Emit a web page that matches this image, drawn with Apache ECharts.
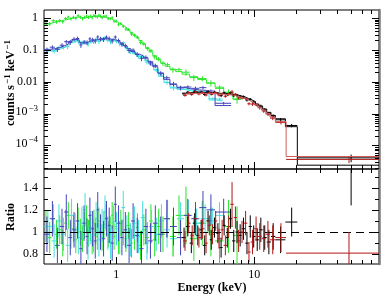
<!DOCTYPE html>
<html><head><meta charset="utf-8">
<script src="https://cdn.jsdelivr.net/npm/echarts@6/dist/echarts.min.js"></script>
<style>html,body{margin:0;padding:0;background:#fff}#c{width:390px;height:299px}</style>
</head><body><div id="c"></div>
<script>
// ---------- data (bin edges in keV, model counts/s/keV, data/model ratio, ratio error) ----------
const greenEdges=[0.30,0.32,0.34,0.36,0.38,0.40,0.42,0.44,0.46,0.48,
 0.50,0.52,0.54,0.56,0.58,0.60,0.62,0.64,0.66,0.68,
 0.70,0.72,0.74,0.76,0.78,0.80,0.83,0.86,0.89,0.92,
 0.95,0.98,1.02,1.06,1.10,1.15,1.20,1.26,1.32,1.39,
 1.46,1.54,1.63,1.73,1.84,1.96,2.10,2.26,2.45,2.70,
 3.00,3.40,3.90,4.50,5.20,6.00,7.00,8.00];
const greenModel=[0.66,0.70,0.75,0.79,0.83,0.87,0.91,0.95,1.00,1.04,
 1.08,1.10,1.08,1.03,1.02,1.05,1.09,1.12,1.14,1.15,
 1.16,1.15,1.14,1.13,1.11,1.08,1.04,1.00,0.96,0.91,
 0.85,0.78,0.70,0.63,0.56,0.49,0.42,0.36,0.30,0.245,
 0.20,0.155,0.118,0.088,0.066,0.050,0.039,0.031,0.025,0.021,
 0.0175,0.0145,0.0118,0.0092,0.0068,0.0045,0.0029];
const greenRatio=[1.05,0.95,1.12,0.98,1.02,0.90,1.08,1.15,0.97,1.03,
 0.93,1.10,1.00,0.94,1.06,1.12,0.99,1.04,0.92,1.08,
 1.01,0.96,1.10,1.03,0.95,1.07,1.13,0.98,1.02,1.15,
 0.96,1.05,0.92,1.08,1.00,0.94,1.06,0.90,0.97,1.04,
 0.88,1.02,0.95,1.10,0.93,1.05,0.98,1.12,0.96,1.15,
 1.15,0.94,1.08,1.00,0.92,1.05,0.97];
const greenErr=[0.14,0.14,0.13,0.13,0.13,0.12,0.12,0.12,0.12,0.12,
 0.12,0.12,0.12,0.12,0.12,0.12,0.12,0.12,0.12,0.12,
 0.12,0.12,0.12,0.12,0.12,0.12,0.12,0.12,0.12,0.12,
 0.12,0.12,0.12,0.12,0.12,0.12,0.12,0.13,0.13,0.13,
 0.13,0.14,0.14,0.15,0.15,0.16,0.16,0.17,0.18,0.18,
 0.26,0.20,0.20,0.22,0.22,0.24,0.26];

const blueEdges=[0.30,0.33,0.36,0.39,0.42,0.45,0.48,0.51,0.54,0.57,
 0.60,0.63,0.66,0.69,0.72,0.75,0.79,0.83,0.87,0.91,
 0.96,1.01,1.07,1.13,1.20,1.28,1.37,1.47,1.58,1.70,
 1.84,2.00,2.20,2.45,2.75,3.10,3.50,4.00,4.50,5.20,
 6.80];
const blueModel=[0.105,0.11,0.12,0.135,0.155,0.185,0.215,0.21,0.17,0.165,
 0.18,0.195,0.205,0.21,0.215,0.225,0.23,0.225,0.22,0.215,
 0.205,0.185,0.16,0.135,0.11,0.09,0.075,0.065,0.056,0.043,
 0.030,0.019,0.012,0.0082,0.0068,0.006,0.0056,0.0054,0.0043,0.0018];
const blueRatio=[0.98,1.12,0.88,1.05,1.18,0.95,1.02,1.10,0.85,1.08,
 0.96,1.15,1.03,0.92,1.20,1.00,0.94,1.12,1.06,0.90,
 1.25,1.08,0.95,1.02,0.88,1.10,0.97,0.85,1.05,0.92,
 1.08,0.98,1.12,1.05,0.95,1.15,1.12,1.22,1.20,1.18];
const blueErr=[0.16,0.16,0.16,0.16,0.16,0.16,0.16,0.16,0.16,0.16,
 0.16,0.16,0.16,0.16,0.16,0.16,0.16,0.16,0.16,0.16,
 0.16,0.16,0.16,0.16,0.16,0.16,0.16,0.16,0.16,0.16,
 0.16,0.16,0.17,0.17,0.16,0.15,0.15,0.15,0.14,0.12];

const cyanEdges=[0.30,0.34,0.37,0.40,0.43,0.46,0.49,0.52,0.55,0.58,
 0.61,0.64,0.67,0.70,0.73,0.77,0.81,0.85,0.89,0.93,
 0.98,1.03,1.09,1.16,1.23,1.31,1.40,1.50,1.61,1.73,
 1.87,2.03,2.22,2.45,2.75,3.10,3.55,4.10,4.70,5.30,
 5.90];
const cyanModel=[0.095,0.10,0.11,0.125,0.145,0.17,0.195,0.19,0.16,0.155,
 0.17,0.18,0.19,0.195,0.20,0.21,0.21,0.205,0.20,0.195,
 0.185,0.165,0.14,0.115,0.095,0.078,0.066,0.056,0.047,0.035,
 0.024,0.015,0.0095,0.0068,0.0058,0.0052,0.0048,0.0044,0.0027,0.0025];
const cyanRatio=[1.05,0.92,1.10,0.98,0.88,1.15,1.02,0.95,1.08,1.20,
 0.90,1.04,0.97,1.12,0.93,1.06,1.18,0.99,0.91,1.09,
 1.03,0.95,1.22,1.00,0.93,1.08,0.96,1.13,0.90,1.05,
 0.98,1.10,1.02,0.94,1.12,1.15,1.08,1.12,1.10,1.15];
const cyanErr=[0.15,0.15,0.15,0.15,0.15,0.15,0.15,0.15,0.15,0.15,
 0.15,0.15,0.15,0.15,0.15,0.15,0.15,0.15,0.15,0.15,
 0.15,0.15,0.15,0.15,0.15,0.15,0.15,0.15,0.15,0.15,
 0.15,0.15,0.16,0.16,0.15,0.14,0.13,0.13,0.12,0.12];

const blackEdges=[3.0,3.2,3.4,3.6,3.8,4.0,4.25,4.5,4.75,5.0,
 5.3,5.6,5.9,6.2,6.55,6.9,7.3,7.7,8.1,8.6,
 9.1,9.6,10.2,10.8,11.5,12.3,13.2,14.2,16.8,20.5,
 80];
const blackModel=[0.0044,0.0045,0.0046,0.0047,0.0047,0.0047,0.0046,0.0046,0.0045,0.0045,
 0.0044,0.0043,0.0043,0.0042,0.0041,0.0040,0.0038,0.0036,0.0033,0.0030,
 0.0027,0.0024,0.0020,0.0017,0.0014,0.0011,0.00088,0.00069,0.00039,0.000024];
const blackRatio=[0.95,1.05,0.90,1.08,0.97,1.02,0.88,1.10,0.93,1.04,
 0.99,0.86,1.06,0.95,1.12,0.92,1.00,0.97,1.03,0.90,
 1.05,0.96,0.93,1.02,0.95,0.91,0.96,0.93,1.09,1.70];
const blackErr=[0.09,0.09,0.09,0.09,0.09,0.09,0.09,0.09,0.09,0.09,
 0.09,0.09,0.09,0.09,0.09,0.10,0.10,0.10,0.10,0.10,
 0.10,0.10,0.10,0.11,0.11,0.11,0.12,0.12,0.13,0.46];

const redEdges=[3.05,3.25,3.45,3.65,3.85,4.1,4.35,4.6,4.85,5.1,
 5.4,5.7,6.0,6.35,6.7,7.1,7.5,7.9,8.4,8.9,
 9.4,10.0,10.6,11.3,12.1,13.0,14.2,17.0,80];
const redModel=[0.0041,0.0042,0.0043,0.0044,0.0044,0.0044,0.0043,0.0043,0.0043,0.0042,
 0.0041,0.0041,0.0040,0.0039,0.0038,0.0036,0.0034,0.0031,0.0028,0.0025,
 0.0022,0.0019,0.0016,0.0013,0.0010,0.00078,0.00056,0.000045];
const redRatio=[0.92,1.08,0.97,1.12,0.95,1.03,0.90,1.06,0.98,1.10,
 0.94,1.02,0.88,1.05,1.25,1.13,0.92,1.00,1.08,0.82,
 0.91,1.03,0.96,0.94,0.98,0.93,0.95,0.81];
const redErr=[0.09,0.09,0.09,0.09,0.09,0.09,0.09,0.09,0.09,0.09,
 0.09,0.09,0.09,0.10,0.20,0.10,0.10,0.10,0.11,0.09,
 0.11,0.11,0.12,0.12,0.12,0.13,0.13,0.19];

const ratioRef=1;

// axis ticks and labels
const xMajorTicks=[1,10];
const xTickLabels=['1','10'];
const xMinorTicks=[0.4,0.5,0.6,0.7,0.8,0.9,2,3,4,5,6,7,8,9,20,30,40,50,60,70];
const yMajorTicks=[1e-4,1e-3,0.01,0.1,1];
const yTickLabels=['10{s|\u22124}','10{s|\u22123}','0.01','0.1','1'];
const yMinorTicks=[2e-5,3e-5,4e-5,5e-5,6e-5,7e-5,8e-5,9e-5,
 2e-4,3e-4,4e-4,5e-4,6e-4,7e-4,8e-4,9e-4,
 2e-3,3e-3,4e-3,5e-3,6e-3,7e-3,8e-3,9e-3,
 0.02,0.03,0.04,0.05,0.06,0.07,0.08,0.09,
 0.2,0.3,0.4,0.5,0.6,0.7,0.8,0.9];
const rMajorTicks=[0.8,1.0,1.2,1.4];
const rTickLabels=['0.8','1','1.2','1.4'];
const rMinorTicks=[0.9,1.1,1.3,1.5];

// ---------- helpers ----------
const FONT='"Liberation Serif", "Times New Roman", serif';
const SUP={fontSize:9, fontFamily:'Liberation Serif', verticalAlign:'top', padding:[0,0,7,1]};
function crosses(edges, model, ratio, err, inRatio){
  const out=[];
  for(let i=0;i<ratio.length;i++){
    const lo=edges[i], hi=edges[i+1], c=(lo+hi)/2, k=inRatio?1:model[i];
    out.push([c, ratio[i]*k, lo, hi, (ratio[i]-err[i])*k, (ratio[i]+err[i])*k]);
  }
  return out;
}
function steps(edges, model){
  const out=[];
  for(let i=0;i<model.length;i++){out.push([edges[i],model[i]]);out.push([edges[i+1],model[i]]);}
  return out;
}
function crossSeries(g, data, color, z){
  return {type:'custom', xAxisIndex:g, yAxisIndex:g, silent:true, z:z, data:data, encode:{x:0,y:1},
    renderItem:function(params, api){
      const cs=params.coordSys, x0=cs.x, x1=cs.x+cs.width, y0=cs.y, y1=cs.y+cs.height;
      const c=api.coord([api.value(0), api.value(1)]);
      const L=api.coord([api.value(2), api.value(1)])[0];
      const R=api.coord([api.value(3), api.value(1)])[0];
      const T=api.coord([api.value(0), api.value(5)])[1];
      const B=api.coord([api.value(0), api.value(4)])[1];
      const st={stroke:color, lineWidth:1};
      const ch=[];
      if(c[1]>=y0 && c[1]<=y1){
        const a=Math.max(L,x0), b=Math.min(R,x1);
        if(b>a) ch.push({type:'line', shape:{x1:a,y1:c[1],x2:b,y2:c[1]}, style:st});
      }
      if(c[0]>=x0 && c[0]<=x1){
        const a=Math.max(T,y0), b=Math.min(B,y1);
        if(b>a) ch.push({type:'line', shape:{x1:c[0],y1:a,x2:c[0],y2:b}, style:st});
      }
      return {type:'group', children:ch};
    }};
}
function stepSeries(g, data, color, z){
  return {type:'line', xAxisIndex:g, yAxisIndex:g, data:data, showSymbol:false, symbol:'none', silent:true, z:z,
    lineStyle:{color:color, width:1}, clip:true};
}
function tickSeries(g, axis, vals, len){
  return {type:'custom', xAxisIndex:g, yAxisIndex:g, silent:true, z:30,
    data: vals.map(v=> axis==='x'?[v,1]:[1,v]), encode:{x:0,y:1},
    renderItem:function(params, api){
      const cs=params.coordSys, st={stroke:'#000', lineWidth:1};
      if(axis==='x'){
        const x=Math.round(api.coord([api.value(0),1])[0])+0.5;
        return {type:'group', children:[
          {type:'line', shape:{x1:x,y1:cs.y,x2:x,y2:cs.y+len}, style:st},
          {type:'line', shape:{x1:x,y1:cs.y+cs.height,x2:x,y2:cs.y+cs.height-len}, style:st}]};
      }
      const y=Math.round(api.coord([1,api.value(1)])[1])+0.5;
      return {type:'group', children:[
        {type:'line', shape:{x1:cs.x,y1:y,x2:cs.x+len,y2:y}, style:st},
        {type:'line', shape:{x1:cs.x+cs.width,y1:y,x2:cs.x+cs.width-len,y2:y}, style:st}]};
    }};
}
function labelSeries(g, axis, vals, labels){
  return {type:'custom', xAxisIndex:g, yAxisIndex:g, silent:true, z:30,
    data: vals.map((v,i)=> axis==='x'?[v,1,i]:[1,v,i]), encode:{x:0,y:1},
    renderItem:function(params, api){
      const cs=params.coordSys, i=api.value(2);
      const base={text:labels[i], fill:'#000', font:'12px '+FONT, rich:{s:SUP}};
      if(axis==='x'){
        const x=api.coord([api.value(0),1])[0];
        return {type:'text', style:Object.assign(base,{x:x, y:cs.y+cs.height+5, align:'center', verticalAlign:'top'})};
      }
      const y=api.coord([1,api.value(1)])[1];
      const off=/\{s\|/.test(labels[i])?-2:0;
      return {type:'text', style:Object.assign(base,{x:cs.x-6, y:y+off, align:'right', verticalAlign:'middle'})};
    }};
}

const GREEN='#2ae62a', BLUE='#4444bc', CYAN='#44dede', RED='#b41616', REDM='#d25a5a', BLACK='#000';

const hiddenX=(g)=>({type:'log', logBase:10, gridIndex:g, min:0.3, max:80,
  axisLine:{show:false}, axisTick:{show:false}, axisLabel:{show:false}, splitLine:{show:false}});
const Y_MIN=1.82e-5, Y_MAX=1.82, R_MIN=0.712, R_MAX=1.568;

const chart=echarts.init(document.getElementById('c'), null, {renderer:'canvas'});
chart.setOption({
  animation:false,
  backgroundColor:'#fff',
  grid:[
    {left:44, top:10, width:335, height:159, show:true, borderColor:'#000', borderWidth:1, backgroundColor:'transparent'},
    {left:44, top:169, width:335, height:95, show:true, borderColor:'#000', borderWidth:1, backgroundColor:'transparent'}
  ],
  xAxis:[hiddenX(0), hiddenX(1)],
  yAxis:[
    {type:'log', logBase:10, gridIndex:0, min:Y_MIN, max:Y_MAX, axisLine:{show:false}, axisTick:{show:false}, axisLabel:{show:false}, splitLine:{show:false}},
    {type:'value', gridIndex:1, min:R_MIN, max:R_MAX, axisLine:{show:false}, axisTick:{show:false}, axisLabel:{show:false}, splitLine:{show:false}},
    {type:'log', logBase:10, gridIndex:0, min:Y_MIN, max:Y_MAX, position:'right', axisLine:{show:true, lineStyle:{color:'#7a7a7a', width:2.5}}, axisTick:{show:false}, axisLabel:{show:false}, splitLine:{show:false}},
    {type:'value', gridIndex:1, min:R_MIN, max:R_MAX, position:'right', axisLine:{show:true, lineStyle:{color:'#7a7a7a', width:2.5}}, axisTick:{show:false}, axisLabel:{show:false}, splitLine:{show:false}}
  ],
  series:[
    // top panel: spectra
    crossSeries(0, crosses(greenEdges, greenModel, greenRatio, greenErr, false), GREEN, 2),
    stepSeries(0, steps(greenEdges, greenModel), GREEN, 3),
    crossSeries(0, crosses(cyanEdges, cyanModel, cyanRatio, cyanErr, false), CYAN, 4),
    stepSeries(0, steps(cyanEdges, cyanModel), CYAN, 5),
    crossSeries(0, crosses(blueEdges, blueModel, blueRatio, blueErr, false), BLUE, 6),
    stepSeries(0, steps(blueEdges, blueModel), BLUE, 7),
    crossSeries(0, crosses(blackEdges, blackModel, blackRatio, blackErr, false), BLACK, 8),
    stepSeries(0, steps(blackEdges, blackModel), BLACK, 9),
    crossSeries(0, crosses(redEdges, redModel, redRatio, redErr, false), RED, 10),
    stepSeries(0, steps(redEdges, redModel), REDM, 11),
    // bottom panel: ratios
    crossSeries(1, crosses(greenEdges, greenModel, greenRatio, greenErr, true), GREEN, 2),
    crossSeries(1, crosses(cyanEdges, cyanModel, cyanRatio, cyanErr, true), CYAN, 3),
    crossSeries(1, crosses(blueEdges, blueModel, blueRatio, blueErr, true), BLUE, 4),
    crossSeries(1, crosses(blackEdges, blackModel, blackRatio, blackErr, true), BLACK, 5),
    crossSeries(1, crosses(redEdges, redModel, redRatio, redErr, true), RED, 6),
    {type:'line', xAxisIndex:1, yAxisIndex:1, data:[], z:20, silent:true,
      markLine:{silent:true, symbol:'none', label:{show:false}, animation:false,
        lineStyle:{color:'#000', width:1.2, type:[8,5]}, data:[{yAxis:ratioRef}]}},
    // ticks and labels
    tickSeries(0,'x',xMajorTicks,7), tickSeries(0,'x',xMinorTicks,4),
    tickSeries(1,'x',xMajorTicks,7), tickSeries(1,'x',xMinorTicks,4),
    tickSeries(0,'y',yMajorTicks,7), tickSeries(0,'y',yMinorTicks,4),
    tickSeries(1,'y',rMajorTicks,7), tickSeries(1,'y',rMinorTicks,4),
    labelSeries(1,'x',xMajorTicks,xTickLabels),
    labelSeries(0,'y',yMajorTicks,yTickLabels),
    labelSeries(1,'y',rMajorTicks,rTickLabels)
  ],
  graphic:[
    {type:'text', x:11, y:83, rotation:Math.PI/2, silent:true,
      style:{text:'counts s{s|\u22121} keV{s|\u22121}', align:'center', verticalAlign:'middle', fill:'#000',
        font:'bold 12px '+FONT, rich:{s:{fontSize:9, fontWeight:'bold', fontFamily:'Liberation Serif', verticalAlign:'top', padding:[0,0,7,1]}}}},
    {type:'text', x:11, y:217, rotation:Math.PI/2, silent:true,
      style:{text:'Ratio', align:'center', verticalAlign:'middle', fill:'#000', font:'bold 12px '+FONT}},
    {type:'text', x:212, y:288, silent:true,
      style:{text:'Energy (keV)', align:'center', verticalAlign:'middle', fill:'#000', font:'bold 12px '+FONT}}
  ]
});
</script></body></html>
